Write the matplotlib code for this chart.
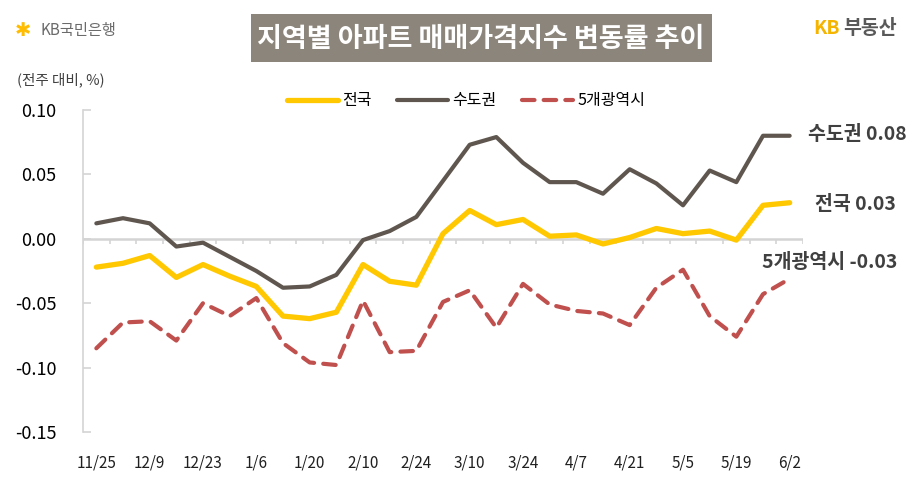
import matplotlib
matplotlib.use("Agg")
import matplotlib.pyplot as plt
from matplotlib.patches import Rectangle
import numpy as np

plt.rcParams["font.family"] = ["Noto Sans CJK KR", "DejaVu Sans"]

# weekly change (%), 11/25 ~ 6/2 (1/27 week skipped)
WEEKS = ["11/25", "12/2", "12/9", "12/16", "12/23", "12/30", "1/6", "1/13",
         "1/20", "2/3", "2/10", "2/17", "2/24", "3/3", "3/10", "3/17", "3/24",
         "3/31", "4/7", "4/14", "4/21", "4/28", "5/5", "5/12", "5/19", "5/26",
         "6/2"]
NATION = [-0.022, -0.019, -0.013, -0.030, -0.020, -0.029, -0.037, -0.060,
          -0.062, -0.057, -0.020, -0.033, -0.036, 0.004, 0.022, 0.011, 0.015,
          0.002, 0.003, -0.004, 0.001, 0.008, 0.004, 0.006, -0.001, 0.026,
          0.028]
CAPITAL = [0.012, 0.016, 0.012, -0.006, -0.003, -0.014, -0.025, -0.038,
           -0.037, -0.028, -0.001, 0.006, 0.017, 0.045, 0.073, 0.079, 0.059,
           0.044, 0.044, 0.035, 0.054, 0.043, 0.026, 0.053, 0.044, 0.080,
           0.080]
METRO5 = [-0.085, -0.065, -0.064, -0.079, -0.050, -0.060, -0.046, -0.081,
          -0.096, -0.098, -0.048, -0.088, -0.087, -0.049, -0.040, -0.069,
          -0.035, -0.051, -0.056, -0.058, -0.067, -0.038, -0.024, -0.060,
          -0.076, -0.043, -0.031]
SERIES_NAMES = ["전국", "수도권", "5개광역시"]

C_NATION = "#FFC800"
C_CAPITAL = "#5F574F"
C_METRO = "#C0504D"
C_AXIS = "#D4D4D4"
C_TEXT = "#404040"

YMIN, YMAX = -0.15, 0.10

fig = plt.figure(figsize=(9.08, 4.88), dpi=100)
ax = fig.add_axes([83 / 908, 1 - 432 / 488, 720 / 908, 322 / 488])

x = np.arange(len(WEEKS))
l1, = ax.plot(x, NATION, color=C_NATION, lw=3.8, solid_capstyle="round",
              label=SERIES_NAMES[0], zorder=3)
l2, = ax.plot(x, CAPITAL, color=C_CAPITAL, lw=3.0, solid_capstyle="round",
              label=SERIES_NAMES[1], zorder=4)
l3, = ax.plot(x, METRO5, color=C_METRO, lw=3.0, ls=(0, (3, 2.2)),
              dash_capstyle="round", label=SERIES_NAMES[2], zorder=2)

ax.set_xlim(-0.5, len(WEEKS) - 0.5)
ax.set_ylim(YMIN, YMAX)

for s in ["top", "right", "bottom"]:
    ax.spines[s].set_visible(False)
ax.spines["left"].set_color(C_AXIS)
ax.spines["left"].set_linewidth(1.2)

yt = np.arange(-0.15, 0.1001, 0.05)
ax.set_yticks(yt)
ax.set_yticklabels([f"{v:.2f}" for v in yt])
ax.tick_params(axis="y", direction="in", length=6, width=1.2, color=C_AXIS,
               pad=19, labelsize=13, labelcolor="black")

ax.set_xticks(x[::2])
ax.set_xticklabels(WEEKS[::2])
ax.tick_params(axis="x", length=0, pad=16, labelsize=11, labelcolor="#202020")

# zero line with category ticks between weeks
ax.axhline(0, color=C_AXIS, lw=1.8, zorder=1)
tick_len = 5 / 322 * (YMAX - YMIN)
ax.vlines(np.arange(-0.5, len(WEEKS), 1.0), -tick_len, 0, color=C_AXIS,
          lw=1.2, zorder=1)

# end labels
ax.annotate(f"{SERIES_NAMES[1]} {CAPITAL[-1]:.2f}", (x[-1], CAPITAL[-1]),
            xytext=(13, 1), textcoords="offset points", ha="left",
            va="center", fontsize=14, color=C_TEXT, fontweight="semibold")
ax.annotate(f"{SERIES_NAMES[0]} {NATION[-1]:.2f}", (x[-1], NATION[-1]),
            xytext=(18, -1), textcoords="offset points", ha="left",
            va="center", fontsize=14, color=C_TEXT, fontweight="semibold")
ax.annotate(f"{SERIES_NAMES[2]} {METRO5[-1]:.2f}", (x[-1], METRO5[-1]),
            xytext=(-20, 12), textcoords="offset points", ha="left",
            va="center", fontsize=14, color=C_TEXT, fontweight="semibold")

# legend
fig.legend(handles=[l1, l2, l3], loc="center", ncol=3,
           bbox_to_anchor=(466 / 908, 1 - 101 / 488), frameon=False,
           fontsize=11.5, handlelength=3.2, handletextpad=0.25,
           columnspacing=1.6)

# title box
fig.patches.append(Rectangle((251 / 908, 1 - 62 / 488), 461 / 908, 48 / 488,
                             transform=fig.transFigure, facecolor="#8C857B",
                             edgecolor="none"))
fig.text(481 / 908, 1 - 39 / 488, "지역별 아파트 매매가격지수 변동률 추이",
         ha="center", va="center", fontsize=19.5, fontweight="bold",
         color="white")

# logos
fig.text(15 / 908, 1 - 30 / 488, "✱", ha="left", va="center", fontsize=14,
         color="#FFBC00", family=["DejaVu Sans"])
fig.text(40 / 908, 1 - 30 / 488, "KB국민은행", ha="left", va="center",
         fontsize=11, color="#6B6B6B")
fig.text(813 / 908, 1 - 29 / 488, "KB", ha="left", va="center", fontsize=14,
         fontweight="bold", color="#F5B400")
fig.text(843 / 908, 1 - 29 / 488, "부동산", ha="left", va="center",
         fontsize=14, fontweight="bold", color="#595959")

fig.text(17 / 908, 1 - 80 / 488, "(전주 대비, %)", ha="left", va="center",
         fontsize=10.5, color=C_TEXT)

fig.savefig("out.png", dpi=100)
